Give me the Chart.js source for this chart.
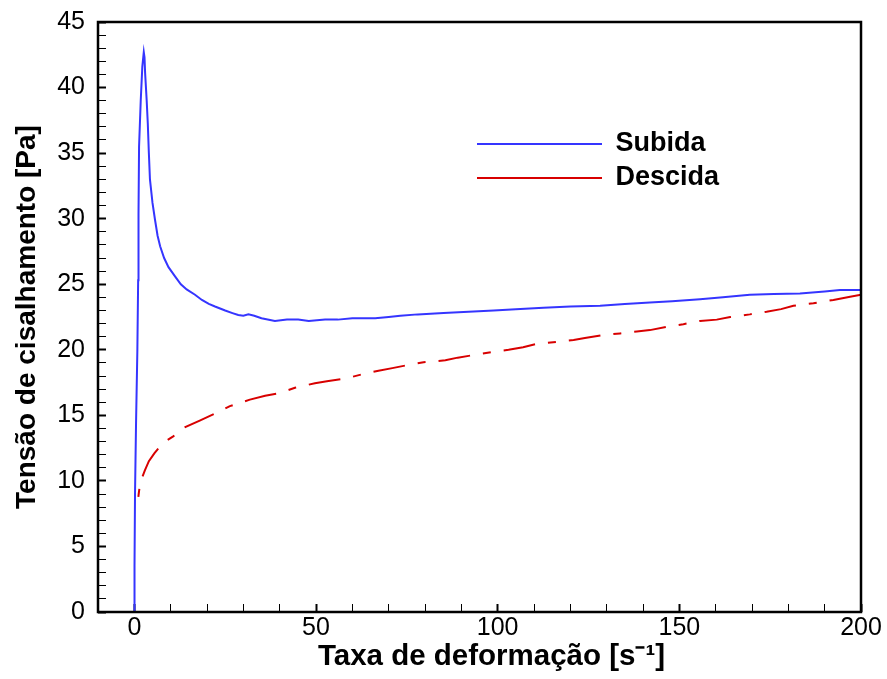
<!DOCTYPE html>
<html>
<head>
<meta charset="utf-8">
<script src="https://cdn.jsdelivr.net/npm/chart.js@4.4.1/dist/chart.umd.min.js"></script>
<style>
html,body{margin:0;padding:0;background:#fff;}
canvas{display:block;}
</style>
</head>
<body>
<canvas id="c" width="887" height="679"></canvas>
<script>
// ---- data ----
const seriesNames = ['Subida', 'Descida'];

const subidaX = [0, 0.05, 0.19, 0.47, 0.83, 1.05, 1.15, 1.3, 1.76, 2.2, 2.6, 2.8, 2.97, 3.4, 3.7, 4.0, 4.3, 5.0, 5.7, 6.4, 7.1, 8.2, 9.4, 11.2, 12.8, 14.4, 16.7, 18.6, 20.5, 22.2, 25, 27, 28.6, 30, 31.4, 33, 35, 38.7, 42, 45.1, 48, 52.5, 56, 60, 66.3, 70, 73.2, 78, 85.1, 92, 98.9, 105, 112.6, 120, 128.2, 135, 141.9, 148, 155.7, 162, 169.4, 176, 183.2, 190, 194.2, 200];
const subidaY = [0, 3.5, 9.1, 14.4, 19.9, 25.3, 30.4, 35.5, 39, 41.6, 42.7, 42.3, 41.1, 39, 37.3, 35, 33, 31.2, 29.9, 28.7, 27.9, 27, 26.3, 25.6, 25.0, 24.6, 24.2, 23.8, 23.5, 23.3, 23.0, 22.8, 22.65, 22.6, 22.7, 22.6, 22.4, 22.2, 22.3, 22.3, 22.2, 22.3, 22.3, 22.4, 22.4, 22.5, 22.6, 22.7, 22.8, 22.9, 23.0, 23.1, 23.2, 23.3, 23.35, 23.5, 23.6, 23.7, 23.85, 24.0, 24.2, 24.25, 24.3, 24.45, 24.55, 24.55];

const descidaX = [200, 197, 192.4, 186.9, 181.4, 178, 174, 169.4, 164, 160.3, 155.7, 151.1, 146.5, 141.9, 138.3, 133.7, 128.5, 124, 120.9, 116.3, 110.8, 107, 103, 98.9, 93.4, 89, 85.6, 79.6, 75.5, 71, 67.2, 63, 58, 53, 49.7, 44.2, 40.1, 36, 31.8, 26.3, 22.7, 18, 14, 10.7, 8.5, 7, 5.5, 4, 2.9, 2.2, 1.57, 1.2, 0.9, 0.7];
const descidaY = [24.2, 24.05, 23.8, 23.55, 23.35, 23.1, 22.9, 22.7, 22.5, 22.3, 22.2, 21.95, 21.75, 21.5, 21.4, 21.25, 21.1, 20.9, 20.75, 20.6, 20.45, 20.2, 20.0, 19.85, 19.6, 19.4, 19.2, 19.05, 18.85, 18.6, 18.4, 18.15, 17.8, 17.6, 17.45, 17.1, 16.7, 16.5, 16.2, 15.7, 15.2, 14.6, 14.1, 13.4, 13.0, 12.6, 12.1, 11.5, 10.8, 10.3, 9.8, 9.0, 8.3, 7.8];

const xTickLabels = [0, 50, 100, 150, 200];
const yTickLabels = [0, 5, 10, 15, 20, 25, 30, 35, 40, 45];

const xTitle = 'Taxa de deformação [s\u207B\u00B9]';
const yTitle = 'Tensão de cisalhamento [Pa]';

// ---- chart ----
const FONT = "'Liberation Sans', Arial, Helvetica, sans-serif";
const toPts = (xs, ys) => xs.map((x, i) => ({x: x, y: ys[i]}));

const frame = {
  id: 'frame',
  afterDatasetsDraw(chart) {
    const a = chart.chartArea, ctx = chart.ctx;
    ctx.save();
    ctx.strokeStyle = '#000';
    ctx.lineWidth = 2.5;
    ctx.strokeRect(a.left, a.top, a.right - a.left, a.bottom - a.top);
    ctx.restore();
  }
};

const layoutTweaks = {
  id: 'layoutTweaks',
  afterLayout(chart) {
    // legend placed inside the plot area
    const lg = chart.legend;
    const pad = lg.options.labels.padding;
    const w = lg.width, h = lg.height;
    lg.left = 477 - pad;
    lg.top = 130.5 - pad;
    lg.right = lg.left + w;
    lg.bottom = lg.top + h;
    // x-axis title sits a little right of the axis centre
    const sx = chart.scales.x;
    if (!sx._titleShifted) {
      const orig = sx.drawTitle.bind(sx);
      sx.drawTitle = function () {
        const l = this.left;
        this.left = l + 24;
        orig();
        this.left = l;
      };
      sx._titleShifted = true;
    }
  }
};

const tickStyle = (labels, hideVal) => ({
  display: true,
  drawOnChartArea: false,
  drawTicks: true,
  tickLength: -8,
  tickColor: ctx => (ctx.tick && ctx.tick.value === hideVal) ? 'rgba(0,0,0,0)' : '#000',
  tickWidth: ctx => (ctx.tick && labels.includes(ctx.tick.value)) ? 2 : 1
});

new Chart(document.getElementById('c'), {
  type: 'line',
  data: {
    datasets: [
      {
        label: seriesNames[0],
        data: toPts(subidaX, subidaY),
        borderColor: '#3535ff',
        backgroundColor: '#3535ff',
        borderWidth: 2,
        pointRadius: 0,
        tension: 0,
        fill: false
      },
      {
        label: seriesNames[1],
        data: toPts(descidaX, descidaY),
        borderColor: '#d80000',
        backgroundColor: '#d80000',
        borderWidth: 2,
        borderDash: [32, 13, 8, 13],
        pointRadius: 0,
        tension: 0,
        fill: false
      }
    ]
  },
  options: {
    responsive: false,
    animation: false,
    devicePixelRatio: 1,
    layout: { padding: { left: 0, top: 22, right: 26, bottom: 0 } },
    plugins: {
      tooltip: { enabled: false },
      legend: {
        display: true,
        position: 'chartArea',
        align: 'start',
        labels: {
          usePointStyle: true,
          pointStyle: 'line',
          pointStyleWidth: 125,
          boxWidth: 125,
          boxHeight: 27,
          padding: 7,
          color: '#000',
          font: { family: FONT, size: 27, weight: 'bold', lineHeight: 1.0 }
        }
      }
    },
    scales: {
      x: {
        type: 'linear',
        position: 'bottom',
        min: -10,
        max: 200,
        afterFit: s => { s.height = 67; s.paddingLeft = 0; s.paddingRight = 0; },
        border: { display: false },
        grid: tickStyle(xTickLabels, -10),
        ticks: {
          stepSize: 10,
          autoSkip: false,
          maxRotation: 0,
          padding: 9,
          color: '#000',
          font: { family: FONT, size: 25, lineHeight: 1.2 },
          callback: v => xTickLabels.includes(v) ? String(v) : ''
        },
        title: {
          display: true,
          text: xTitle,
          color: '#000',
          padding: { top: 0, bottom: 4 },
          font: { family: FONT, size: 29.5, weight: 'bold', lineHeight: 1.2 }
        }
      },
      y: {
        type: 'linear',
        position: 'left',
        min: 0,
        max: 45,
        afterFit: s => { s.width = 98; s.paddingTop = 0; s.paddingBottom = 0; },
        border: { display: false },
        grid: tickStyle(yTickLabels, null),
        ticks: {
          stepSize: 1,
          autoSkip: false,
          padding: 21,
          color: '#000',
          font: { family: FONT, size: 25, lineHeight: 1.2 },
          callback: v => yTickLabels.includes(v) ? String(v) : ''
        },
        title: {
          display: true,
          text: yTitle,
          color: '#000',
          padding: { top: 10.5, bottom: 0 },
          font: { family: FONT, size: 28, weight: 'bold', lineHeight: 1.2 }
        }
      }
    }
  },
  plugins: [frame, layoutTweaks]
});
</script>
</body>
</html>
